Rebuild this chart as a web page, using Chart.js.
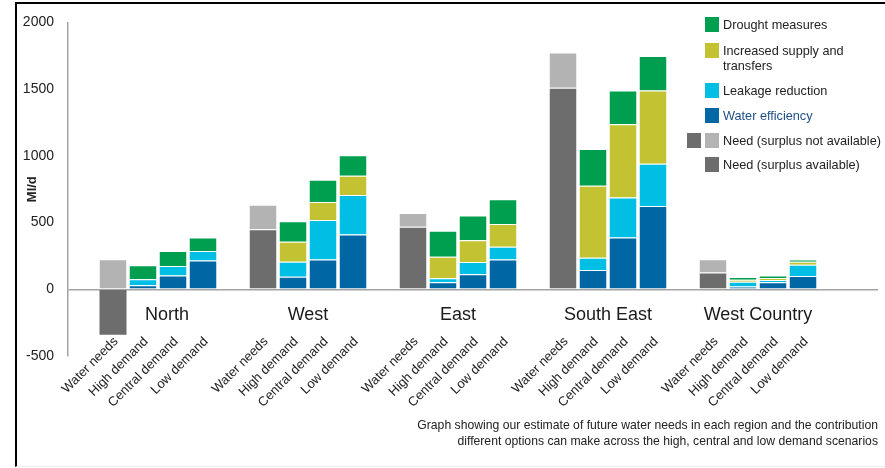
<!DOCTYPE html>
<html>
<head>
<meta charset="utf-8">
<script src="https://cdn.jsdelivr.net/npm/chart.js@4/dist/chart.umd.min.js"></script>
<style>
  html, body { margin: 0; padding: 0; background: #fff; }
  #wrap { position: relative; width: 885px; height: 468px; overflow: hidden;
          font-family: "Liberation Sans", Arial, sans-serif; }
  #chart { position: absolute; left: 0; top: 0; }
  #frame { position: absolute; left: 15px; top: 2px; right: 0; bottom: 1px;
           border-left: 2px solid #000; border-top: 2px solid #000;
           border-bottom: 1px solid #eee; pointer-events: none; }
  .legend-item { position: absolute; left: 705px; font-size: 12.7px; line-height: 15px; color: #222; }
  .swatch { position: absolute; top: 0; width: 14px; height: 15px; }
  .legend-text { position: absolute; left: 18px; top: 1px; white-space: nowrap; }
  #caption { position: absolute; right: 7px; top: 417px; font-size: 12.2px; line-height: 16px;
             text-align: right; color: #222; white-space: nowrap; }
</style>
</head>
<body>
<div id="wrap">
  <canvas id="chart" width="885" height="468"></canvas>
  <div id="legend"></div>
  <div id="caption">Graph showing our estimate of future water needs in each region and the contribution<br>different options can make across the high, central and low demand scenarios</div>
  <div id="frame"></div>
</div>
<script>
// Regions and the four bars drawn for each of them
const regions = ['North', 'West', 'East', 'South East', 'West Country'];
const scenarios = ['Water needs', 'High demand', 'Central demand', 'Low demand'];

// Water needs bar, one value per region (Ml/d)
const needSurplusAvailable    = [-340, 450, 468, 1510, 125];
const needSurplusNotAvailable = [225, 184, 104, 265, 100];

// Option contributions per region, in the order high, central, low demand (Ml/d)
const waterEfficiency  = [30, 104, 216,   94, 224, 410,   52, 112, 224,   144, 388, 624,   20, 52, 99];
const leakageReduction = [45, 70, 70,     112, 296, 297,  30, 92, 95,     92, 299, 316,    37, 18, 85];
const increasedSupply  = [0, 0, 0,        150, 134, 143,  162, 164, 171,  540, 549, 550,   15, 15, 22];
const droughtMeasures  = [106, 112, 102,  154, 167, 155,  194, 184, 184,  276, 254, 259,   20, 19, 18];

const yTicks = [-500, 0, 500, 1000, 1500, 2000];

// Category slots: one empty slot before the first region, a gap after each region, one more at the end
const SLOTS_PER_REGION = 5;
const slotIndex = (r, s) => 1 + r * SLOTS_PER_REGION + s;
const slotCount = 1 + regions.length * SLOTS_PER_REGION + 1;

const labels = new Array(slotCount).fill('');
regions.forEach((_, r) => scenarios.forEach((s, i) => { labels[slotIndex(r, i)] = s; }));

function needSeries(values) {
  const out = new Array(slotCount).fill(null);
  values.forEach((v, r) => { out[slotIndex(r, 0)] = v; });
  return out;
}
function optionSeries(values) {
  const out = new Array(slotCount).fill(null);
  values.forEach((v, k) => { out[slotIndex(Math.floor(k / 3), 1 + (k % 3))] = v; });
  return out;
}

const series = [
  { label: 'Need (surplus available)',     color: '#6d6d6d', data: needSeries(needSurplusAvailable) },
  { label: 'Need (surplus not available)', color: '#b3b3b3', data: needSeries(needSurplusNotAvailable) },
  { label: 'Water efficiency',             color: '#0066a4', data: optionSeries(waterEfficiency) },
  { label: 'Leakage reduction',            color: '#00bee4', data: optionSeries(leakageReduction) },
  { label: 'Increased supply and transfers', color: '#c3c232', data: optionSeries(increasedSupply) },
  { label: 'Drought measures',             color: '#009f4f', data: optionSeries(droughtMeasures) }
];

// Legend, listed top to bottom
const legendRows = [
  { key: 'Drought measures', top: 17, text: 'Drought measures' },
  { key: 'Increased supply and transfers', top: 43, text: 'Increased supply and<br>transfers' },
  { key: 'Leakage reduction', top: 83, text: 'Leakage reduction' },
  { key: 'Water efficiency', top: 108, text: 'Water efficiency', textColor: '#1d4f86' },
  { key: 'Need (surplus not available)', top: 133, text: 'Need (surplus not available)', extra: 'Need (surplus available)' },
  { key: 'Need (surplus available)', top: 157, text: 'Need (surplus available)' }
];
const legendEl = document.getElementById('legend');
legendRows.forEach(row => {
  const s = series.find(d => d.label === row.key);
  const item = document.createElement('div');
  item.className = 'legend-item';
  item.style.top = row.top + 'px';
  let html = '<div class="swatch" style="left:0;background:' + s.color + '"></div>';
  if (row.extra) {
    const e = series.find(d => d.label === row.extra);
    html += '<div class="swatch" style="left:-18px;background:' + e.color + '"></div>';
  }
  html += '<div class="legend-text"' + (row.textColor ? ' style="color:' + row.textColor + '"' : '') + '>' + row.text + '</div>';
  item.innerHTML = html;
  legendEl.appendChild(item);
});

// Region names written under the zero line, centred on each group of bars
// (North is nudged right, clear of its negative bar)
const regionNudge = { North: 9 };
const regionLabels = {
  id: 'regionLabels',
  afterDatasetsDraw(chart) {
    const { ctx, scales: { x, y } } = chart;
    ctx.save();
    ctx.font = '18px "Liberation Sans", Arial, sans-serif';
    ctx.fillStyle = '#1a1a1a';
    ctx.textAlign = 'center';
    ctx.textBaseline = 'middle';
    const baseY = y.getPixelForValue(0) + 26;
    regions.forEach((name, r) => {
      const a = x.getPixelForValue(slotIndex(r, 0));
      const b = x.getPixelForValue(slotIndex(r, 3));
      ctx.fillText(name, (a + b) / 2 + (regionNudge[name] || 0), baseY);
    });
    ctx.restore();
  }
};

Chart.defaults.font.family = '"Liberation Sans", Arial, sans-serif';
Chart.defaults.color = '#222';

new Chart(document.getElementById('chart'), {
  type: 'bar',
  data: {
    labels: labels,
    datasets: series.map(s => ({
      label: s.label,
      data: s.data,
      backgroundColor: s.color,
      borderColor: '#ffffff',
      borderWidth: { top: 1 },
      categoryPercentage: 1,
      barPercentage: 0.9,
      stack: 'all'
    }))
  },
  options: {
    responsive: false,
    devicePixelRatio: 1,
    animation: false,
    layout: { padding: { left: 0, top: 21, right: 7, bottom: 0 } },
    plugins: { legend: { display: false }, tooltip: { enabled: false } },
    scales: {
      x: {
        stacked: true,
        grid: { display: false },
        border: { display: false },
        ticks: {
          autoSkip: false,
          minRotation: 45,
          maxRotation: 45,
          // scenario names start just above the bottom of the value axis
          mirror: true,
          padding: 11,
          labelOffset: 14,
          font: { size: 13 },
          color: '#222'
        },
        afterFit(scale) {
          scale.height = 112;
          scale.paddingLeft = 0;
          scale.paddingRight = 0;
        }
      },
      y: {
        stacked: true,
        min: -500,
        max: 2000,
        afterBuildTicks(scale) { scale.ticks = yTicks.map(v => ({ value: v })); },
        grid: {
          drawTicks: false,
          lineWidth: 1.5,
          color: ctx => (ctx.tick && ctx.tick.value === 0 ? '#a3a3a3' : 'rgba(0,0,0,0)')
        },
        border: { display: true, color: '#a3a3a3', width: 1.5 },
        ticks: { padding: 14, font: { size: 14 }, color: '#222', callback: v => String(v) },
        title: {
          display: true,
          text: 'Ml/d',
          font: { size: 13, weight: 'bold' },
          color: '#222',
          padding: { top: 25, bottom: 0 }
        },
        afterFit(scale) { scale.width = 68; }
      }
    }
  },
  plugins: [regionLabels]
});
</script>
</body>
</html>
